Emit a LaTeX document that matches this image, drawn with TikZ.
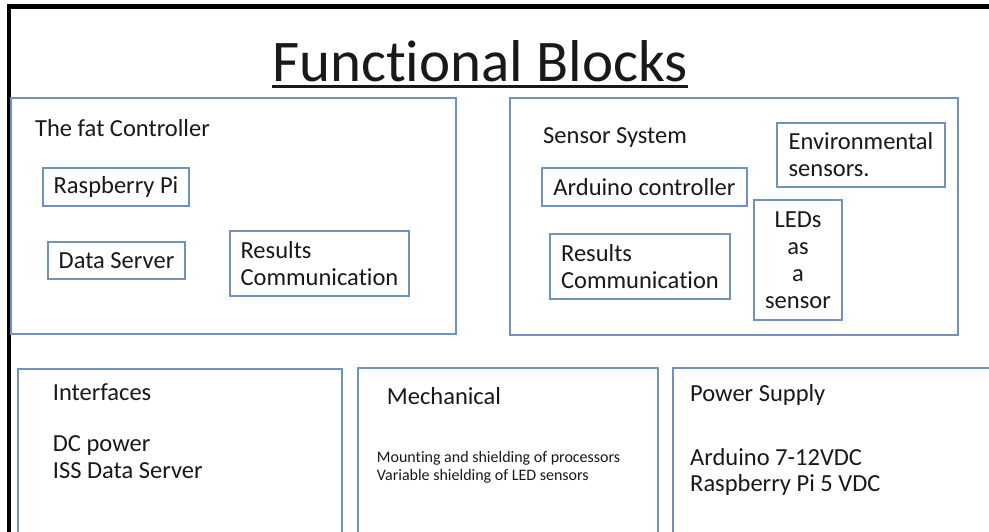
\documentclass[tikz,border=0pt]{standalone}
\usepackage{fontspec}
\setmainfont[Ligatures={NoCommon}]{Carlito}
\definecolor{boxblue}{RGB}{112,146,190}
\definecolor{ink}{RGB}{25,25,25}
\begin{document}
\begin{tikzpicture}[x=1pt,y=-1pt,
  box/.style={draw=boxblue, line width=1.5pt, inner sep=0pt, align=left, text=ink, font=\fontsize{24.5}{27}\selectfont},
  grp/.style={draw=boxblue, line width=1.5pt, inner sep=0pt},
  lbl/.style={inner sep=0pt, anchor=base west, text=ink, font=\fontsize{24.5}{26.7}\selectfont, align=left},
  small/.style={inner sep=0pt, anchor=base west, text=ink, font=\fontsize{16}{17.3}\selectfont, align=left},
]
\useasboundingbox (0,0) rectangle (989,532);
\fill[white] (0,0) rectangle (989,532);
% outer frame
\coordinate (fb) at (9,545);
\coordinate (fc) at (9,6.5);
\coordinate (fr) at (1000,6.5);
\draw[line width=4.5pt, black] (fb) -- (fc) -- (fr);
% title
\node[inner sep=0pt, anchor=base west, font=\fontsize{59}{70}\selectfont, text=ink] (title) at (272,81.5) {Functional Blocks};
\draw[line width=3pt, ink] ([yshift=-5pt]title.base west) -- ([yshift=-5pt]title.base east);
% group boxes
\node[grp, minimum width=445pt, minimum height=236pt] (fat) at (233.5,216) {};
\node[grp, minimum width=448pt, minimum height=237pt] (sens) at (734,216.5) {};
\node[grp, minimum width=324pt, minimum height=191pt] (intf) at (180,464.5) {};
\node[grp, minimum width=300pt, minimum height=192pt] (mech) at (508,464) {};
\node[grp, minimum width=337pt, minimum height=192pt] (pwr) at (841.5,464) {};
% group labels (multi-line nodes: base = last line)
\node[lbl] (fatlbl) at (35,136.7) {The fat Controller};
\node[lbl] (senslbl) at (543,143.3) {Sensor System};
\node[lbl] (intflbl) at (52.7,400) {Interfaces};
\node[lbl] (intftxt) at (52.7,478.4) {DC power\\ISS Data Server};
\node[lbl] (mechlbl) at (386.7,404) {Mechanical};
\node[small] (mechtxt) at (376.7,480) {Mounting and shielding of processors\\Variable shielding of LED sensors};
\node[lbl] (pwrlbl) at (690,401.7) {Power Supply};
\node[lbl] (pwrtxt) at (690,491.7) {Arduino 7-12VDC\\Raspberry Pi 5 VDC};
% inner boxes
\node[box, minimum width=146pt, minimum height=38pt] (rpi) at (116,187) {Raspberry Pi};
\node[box, minimum width=137pt, minimum height=37pt] (ds) at (116.5,260.5) {Data Server};
\node[box, minimum width=179pt, minimum height=65pt] (rc1) at (319.5,263.5) {Results\\Communication};
\node[box, minimum width=205pt, minimum height=38pt] (ard) at (644.5,187) {Arduino controller};
\node[box, minimum width=180pt, minimum height=65pt] (rc2) at (640,266.5) {Results\\Communication};
\node[box, align=center, minimum width=88pt, minimum height=120pt] (leds) at (798,260) {LEDs\\as\\a\\sensor};
\node[box, minimum width=168pt, minimum height=64pt] (env) at (861,155) {Environmental\\sensors.};
\end{tikzpicture}
\end{document}
